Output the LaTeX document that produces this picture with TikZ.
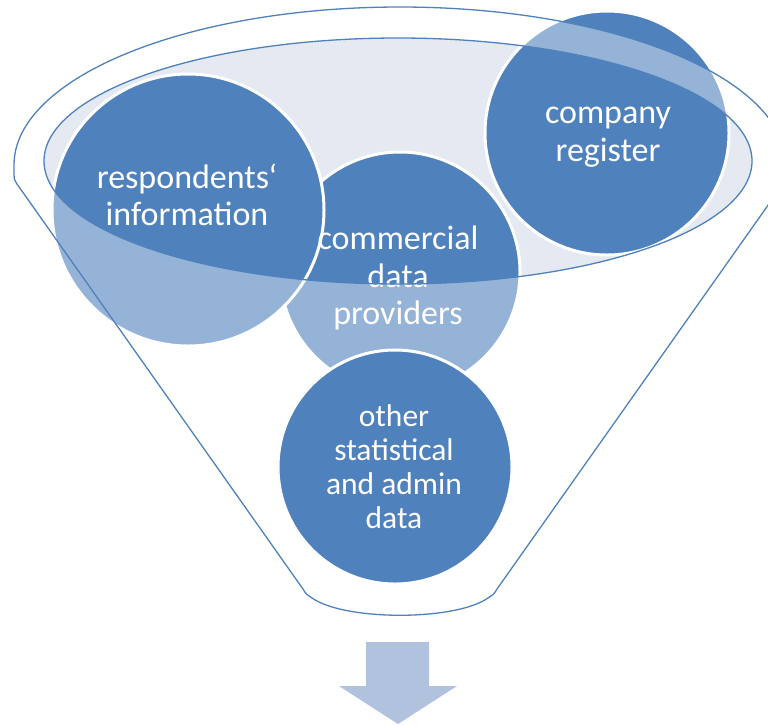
\documentclass[tikz,border=0pt]{standalone}
\usepackage{fontspec}
\setmainfont{Carlito}
\usepackage{tikz}
\definecolor{dataBlue}{HTML}{4F81BD}
\definecolor{rimFill}{HTML}{E4E9F2}
\definecolor{arrowBlue}{HTML}{B0C2DE}

\begin{document}
\begin{tikzpicture}[x=1pt, y=-1pt,
    bubble/.style={circle, draw=white, line width=3pt, fill=dataBlue, inner sep=0pt},
    bubble text/.style={text=white, align=center, inner sep=0pt, font=\fontsize{34}{37.5}\selectfont},
    funnel/.style={draw=dataBlue, line width=1.3pt}]
    \useasboundingbox (0,0) rectangle (768,724);

    %inner surface
    \fill[rimFill] (398,161) ellipse [x radius=354, y radius=123];

    %data sources
    \node[bubble, minimum size=240] (comm) at (400,272) {};
    \node[bubble, minimum size=272] (resp) at (188,210) {};
    \node[bubble, minimum size=244] (comp) at (607,133) {};

    \node[bubble text] (comm-txt) at (398,278) {commercial\\data\\providers};
    \node[bubble text] (resp-txt) at (187,195) {respondents‘\\information};
    \node[bubble text] (comp-txt) at (608,137) {company\\register};

    %funnel body (glass)
    \fill[white, fill opacity=0.4, even odd rule]
      (0,400) -- (0,165) -- (14,165) arc[start angle=180, end angle=360, x radius=386, y radius=158]
      -- (800,165) -- (800,400) -- cycle
      (398,161) ellipse [x radius=354, y radius=123];

    %funnel outline
    \draw[funnel]
      (14,175) -- (14,165) arc[start angle=180, end angle=360, x radius=386, y radius=158]
      -- (786,175) .. controls (786,179) .. (783,184)
      -- (497,589) .. controls (494,594) .. (488,598)
      .. controls (455,621) and (345,621) .. (312,598)
      .. controls (306,594) .. (303,589)
      -- (17,184) .. controls (14,179) .. cycle
      (398,161) ellipse [x radius=354, y radius=123];

    %result
    \node[bubble, minimum size=234] (other) at (395,467) {};
    \node[bubble text, font=\fontsize{31.5}{34}\selectfont] (other-txt) at (394,467) {other\\statistical\\and admin\\data};

    \fill[arrowBlue] (366,642) -- (429,642) -- (429,686) -- (457,686) -- (398,724)
      -- (339,686) -- (366,686) -- cycle;
\end{tikzpicture}
\end{document}
